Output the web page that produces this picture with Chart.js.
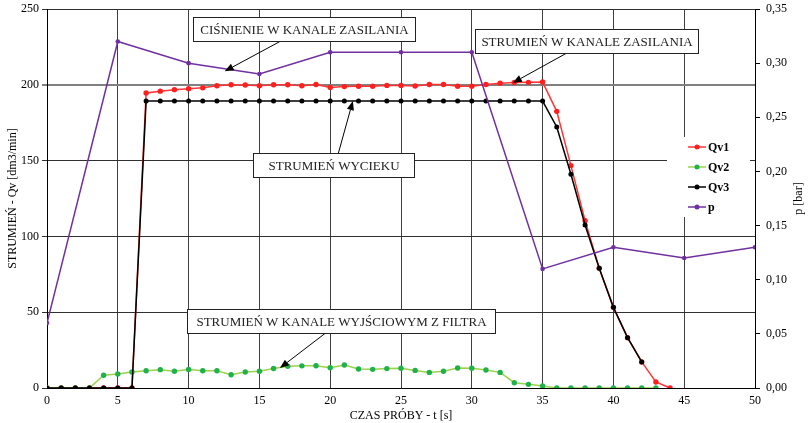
<!DOCTYPE html>
<html>
<head>
<meta charset="utf-8">
<script src="https://cdn.jsdelivr.net/npm/chart.js@4"></script>
<style>
  html, body { margin: 0; padding: 0; background: #fff; }
  canvas { display: block; }
</style>
</head>
<body>
<canvas id="c" width="808" height="423"></canvas>
<script>
// Time stamps [s] and measured series
const qv1Time = [0,1,2,3,4,5,6,7,8,9,10,11,12,13,14,15,16,17,18,19,20,21,22,23,24,25,26,27,28,29,30,31,32,33,34,35,36,37,38,39,40,41,42,43,44];
const qv1 = [0,0,0,0,0,0,0,194.6,195.8,196.8,197.4,198,199.4,200,199.9,199.4,200,200,199.4,200.2,198.3,198.8,199,199,199.6,199.6,199.2,200.2,200.2,199,199,200.2,201,201.5,201.6,201.8,182.5,146.7,110.4,79,53.2,33.2,17.2,4,0];

const qv2Time = [0,1,2,3,4,5,6,7,8,9,10,11,12,13,14,15,16,17,18,19,20,21,22,23,24,25,26,27,28,29,30,31,32,33,34,35,36,37,38,39,40,41,42,43];
const qv2 = [0,0,0,0,8.4,9.2,10.6,11.4,12.1,11,12.2,11.4,11.4,8.7,10.6,11,12.9,14.3,14.6,14.7,13.4,15.2,12.5,12.3,12.8,13,11.6,10.3,11,13.2,13,11.9,10.3,3.5,2.4,1.3,0,0,0,0,0,0,0,0];

const qv3Time = [0,1,2,3,4,5,6,7,8,9,10,11,12,13,14,15,16,17,18,19,20,21,22,23,24,25,26,27,28,29,30,31,32,33,34,35,36,37,38,39,40,41,42];
const qv3 = [0,0,0,0,0,0,0,189.3,189.3,189.3,189.3,189.3,189.3,189.3,189.3,189.3,189.3,189.3,189.3,189.3,189.3,189.3,189.3,189.3,189.3,189.3,189.3,189.3,189.3,189.3,189.3,189.3,189.3,189.3,189.3,189.3,172.2,141,107.5,79,53.2,33.2,17.2];

const pTime = [0,5,10,15,20,25,30,35,40,45,50];
const pBar = [0.06,0.32,0.30,0.29,0.31,0.31,0.31,0.11,0.13,0.12,0.13];

const seriesNames = ['Qv1','Qv2','Qv3','p'];
const leftTitle = 'STRUMIEŃ - Qv [dm3/min]';
const rightTitle = 'p [bar]';
const bottomTitle = 'CZAS PRÓBY - t [s]';

// Callout labels: text, box centre (t, Qv), arrow tail t on box edge, arrow tip (t, value on given axis)
const calloutText = ['CIŚNIENIE W KANALE ZASILANIA','STRUMIEŃ W KANALE ZASILANIA','STRUMIEŃ WYCIEKU','STRUMIEŃ W KANALE WYJŚCIOWYM Z FILTRA'];
const calloutBoxT = [18.14, 38.1, 20.25, 20.75];
const calloutBoxV = [237.0, 229.1, 147.1, 44.1];
const calloutTailT = [16.45, 36.65, 20.57, 19.63];
const calloutTipT = [12.55, 32.9, 21.6, 16.45];
const calloutTipV = [0.2925, 201.3, 189.3, 13.2];
const calloutTipAxis = ['y1','y','y','y'];

const SERIF = '"Liberation Serif", "Times New Roman", serif';

const toPts = (xs, ys) => xs.map((x, i) => ({ x, y: ys[i] }));

const colors = {
  qv1Line: '#ff3535', qv1Dot: '#ff1f1f',
  qv2Line: '#9bd24a', qv2Dot: '#1fb24a',
  qv3Line: '#000000', qv3Dot: '#000000',
  pLine: '#7030a0', pDot: '#7030a0'
};

const decorPlugin = {
  id: 'decor',
  afterDatasetsDraw(chart) {
    const { ctx, chartArea: a, scales } = chart;
    const xs = scales.x, ys = scales.y;
    ctx.save();

    // callout boxes with arrows
    const boxW = [222, 223, 161, 308];
    const boxH = 24;
    ctx.font = '13px ' + SERIF;
    calloutText.forEach((txt, i) => {
      const cx = xs.getPixelForValue(calloutBoxT[i]);
      const cy = ys.getPixelForValue(calloutBoxV[i]);
      const w = boxW[i];
      const x0 = Math.round(cx - w / 2) + 0.5, y0 = Math.round(cy - boxH / 2) + 0.5;
      const tipX = xs.getPixelForValue(calloutTipT[i]);
      const tipY = scales[calloutTipAxis[i]].getPixelForValue(calloutTipV[i]);
      const tailX = xs.getPixelForValue(calloutTailT[i]);
      const tailY = tipY > cy ? y0 + boxH : y0;

      // arrow
      const ang = Math.atan2(tipY - tailY, tipX - tailX);
      const hl = 9, hw = 3.6;
      const bx = tipX - hl * Math.cos(ang), by = tipY - hl * Math.sin(ang);
      ctx.strokeStyle = '#000';
      ctx.lineWidth = 1;
      ctx.beginPath();
      ctx.moveTo(tailX, tailY);
      ctx.lineTo(bx, by);
      ctx.stroke();
      ctx.fillStyle = '#000';
      ctx.beginPath();
      ctx.moveTo(tipX, tipY);
      ctx.lineTo(bx + hw * Math.sin(ang), by - hw * Math.cos(ang));
      ctx.lineTo(bx - hw * Math.sin(ang), by + hw * Math.cos(ang));
      ctx.closePath();
      ctx.fill();

      // box
      ctx.fillStyle = '#fff';
      ctx.fillRect(x0, y0, w, boxH);
      ctx.strokeStyle = '#222';
      ctx.strokeRect(x0, y0, w, boxH);
      ctx.fillStyle = '#222';
      ctx.textAlign = 'center';
      ctx.textBaseline = 'middle';
      ctx.fillText(txt, x0 + w / 2, y0 + boxH / 2 + 1);
    });

    // legend panel
    const lx = a.right - 88, ly = a.top + 128;
    ctx.fillStyle = '#fff';
    ctx.fillRect(lx, ly, 83, 80);
    const legLines = [colors.qv1Line, colors.qv2Line, colors.qv3Line, colors.pLine];
    const legDots = [colors.qv1Dot, colors.qv2Dot, colors.qv3Dot, colors.pDot];
    ctx.font = 'bold 12px ' + SERIF;
    ctx.textAlign = 'left';
    ctx.textBaseline = 'middle';
    seriesNames.forEach((name, i) => {
      const yy = ly + 10 + i * 20;
      ctx.strokeStyle = legLines[i];
      ctx.lineWidth = 1.5;
      ctx.beginPath();
      ctx.moveTo(lx + 21, yy);
      ctx.lineTo(lx + 39, yy);
      ctx.stroke();
      ctx.fillStyle = legDots[i];
      ctx.beginPath();
      ctx.arc(lx + 30, yy, 2.5, 0, Math.PI * 2);
      ctx.fill();
      ctx.fillStyle = '#000';
      ctx.fillText(name, lx + 41, yy + 1);
    });

    // right axis title (reads bottom to top)
    ctx.save();
    ctx.translate(799, (a.top + a.bottom) / 2);
    ctx.rotate(-Math.PI / 2);
    ctx.font = '12px ' + SERIF;
    ctx.fillStyle = '#000';
    ctx.textAlign = 'center';
    ctx.textBaseline = 'middle';
    ctx.fillText(rightTitle, 0, 0);
    ctx.restore();

    ctx.restore();
  }
};

const lineDs = (label, data, line, dot, axis, order, r) => ({
  label, data, yAxisID: axis, order,
  borderColor: line, borderWidth: 1.5,
  pointBackgroundColor: dot, pointBorderWidth: 0, pointRadius: r,
  tension: 0, fill: false
});

// fixed axis boxes; tick-label overflow is allowed to spill into the margins
const fixWidth = w => s => { s.width = w; s.paddingTop = 0; s.paddingBottom = 0; };

new Chart(document.getElementById('c'), {
  type: 'line',
  data: {
    datasets: [
      lineDs(seriesNames[0], toPts(qv1Time, qv1), colors.qv1Line, colors.qv1Dot, 'y', 3, 2.7),
      lineDs(seriesNames[1], toPts(qv2Time, qv2), colors.qv2Line, colors.qv2Dot, 'y', 2, 2.7),
      lineDs(seriesNames[2], toPts(qv3Time, qv3), colors.qv3Line, colors.qv3Dot, 'y', 1, 2.5),
      lineDs(seriesNames[3], toPts(pTime, pBar), colors.pLine, colors.pDot, 'y1', 0, 2.3)
    ]
  },
  options: {
    responsive: false,
    animation: false,
    events: [],
    layout: { padding: { top: 9, left: 0, right: 0, bottom: 0 } },
    plugins: { legend: { display: false }, tooltip: { enabled: false } },
    scales: {
      x: {
        type: 'linear', min: 0, max: 50,
        afterFit: s => { s.height = 35; s.paddingLeft = 0; s.paddingRight = 0; },
        ticks: { stepSize: 5, color: '#000', font: { family: SERIF, size: 12 }, padding: 6, maxRotation: 0 },
        grid: { color: '#404040', lineWidth: 1, drawTicks: false },
        border: { color: '#000', width: 1 },
        title: { display: true, text: bottomTitle, color: '#000', font: { family: SERIF, size: 12 }, padding: { top: -3, bottom: 0 } }
      },
      y: {
        position: 'left', min: 0, max: 250,
        afterFit: fixWidth(47),
        ticks: { stepSize: 50, color: '#000', font: { family: SERIF, size: 12 }, padding: 3 },
        grid: {
          color: c => (c.tick && c.tick.value === 200) ? '#808080' : '#303030',
          lineWidth: c => (c.tick && c.tick.value === 200) ? 2 : 1,
          tickLength: 5
        },
        border: { color: '#000', width: 1 },
        title: { display: true, text: leftTitle, color: '#000', font: { family: SERIF, size: 12 }, padding: { top: 6, bottom: 0 } }
      },
      y1: {
        position: 'right', min: 0, max: 0.35,
        afterFit: fixWidth(53),
        ticks: {
          stepSize: 0.05, color: '#000', font: { family: SERIF, size: 12 }, padding: 6,
          callback: v => v.toFixed(2).replace('.', ',')
        },
        grid: { drawOnChartArea: false, color: '#000', tickLength: 5 },
        border: { color: '#000', width: 1 }
      }
    }
  },
  plugins: [decorPlugin]
});
</script>
</body>
</html>
